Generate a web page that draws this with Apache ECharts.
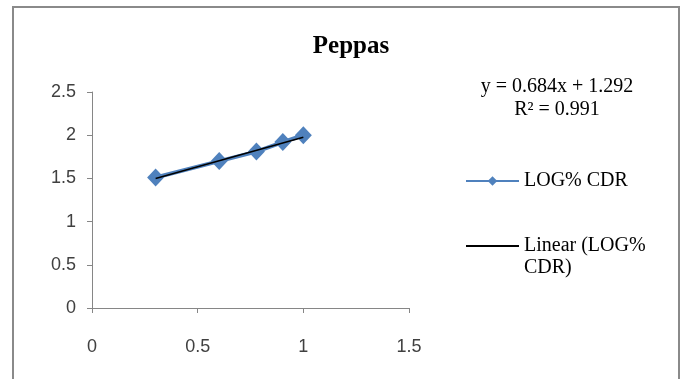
<!DOCTYPE html>
<html>
<head>
<meta charset="utf-8">
<script src="https://cdn.jsdelivr.net/npm/echarts@6/dist/echarts.min.js"></script>
<style>
  html, body { margin: 0; padding: 0; background: #fff; }
  #wrap { position: relative; width: 680px; height: 379px; overflow: hidden; }
  #frame { position: absolute; left: 12px; top: 6px; width: 664px; height: 380px;
           border: 2px solid #8a8a8a; border-bottom: none; }
  #main { position: absolute; left: 0; top: 0; width: 680px; height: 379px; }
</style>
</head>
<body>
<div id="wrap">
  <div id="frame"></div>
  <div id="main"></div>
</div>
<script>
// 数据（log 时间 vs log %CDR）
var logTime = [0.301, 0.602, 0.778, 0.903, 1.0];
var logCdr = [1.51, 1.70, 1.81, 1.92, 2.00];
// 趋势线两个端点
var trendX = [0.301, 1.0];
var trendY = [1.498, 1.976];
var xTicks = [0, 0.5, 1, 1.5];
var yTicks = [0, 0.5, 1, 1.5, 2, 2.5];

var chart = echarts.init(document.getElementById('main'));

var labelFont = { fontFamily: 'Liberation Sans', fontSize: 18, color: '#404040' };
var trendName = 'Linear (LOG%\nCDR)';

chart.setOption({
  animation: false,
  title: {
    text: 'Peppas',
    left: 346,
    top: 29,
    textAlign: 'center',
    textStyle: { fontFamily: 'Liberation Serif', fontWeight: 'bold', fontSize: 25, color: '#000' }
  },
  grid: { left: 92, top: 92, right: 271, bottom: 71, containLabel: false },
  xAxis: {
    type: 'value',
    min: xTicks[0],
    max: xTicks[xTicks.length - 1],
    interval: 0.5,
    axisLine: { show: true, lineStyle: { color: '#868686', width: 1 } },
    axisTick: { show: true, inside: false, length: 5, lineStyle: { color: '#868686' } },
    splitLine: { show: false },
    axisLabel: Object.assign({ margin: 30 }, labelFont)
  },
  yAxis: {
    type: 'value',
    min: yTicks[0],
    max: yTicks[yTicks.length - 1],
    interval: 0.5,
    axisLine: { show: true, lineStyle: { color: '#868686', width: 1 } },
    axisTick: { show: true, inside: false, length: 5, lineStyle: { color: '#868686' } },
    splitLine: { show: false },
    axisLabel: Object.assign({ margin: 16 }, labelFont)
  },
  legend: {
    orient: 'vertical',
    left: 465,
    top: 170,
    padding: 0,
    itemGap: 21,
    itemWidth: 53,
    itemHeight: 12,
    textStyle: { fontFamily: 'Liberation Serif', fontSize: 20, color: '#000', lineHeight: 22 },
    // 让图例线对齐第一行文字
    formatter: function (name) {
      return name === trendName ? ' \n' + name : name;
    },
    data: [
      { name: 'LOG% CDR' },
      { name: trendName, itemStyle: { opacity: 0 } }
    ]
  },
  graphic: [
    {
      type: 'text',
      x: 557,
      y: 75,
      style: {
        text: 'y = 0.684x + 1.292\nR² = 0.991',
        fill: '#000',
        font: '20px "Liberation Serif"',
        lineHeight: 23,
        align: 'center'
      }
    }
  ],
  series: [
    {
      name: 'LOG% CDR',
      type: 'line',
      data: logTime.map(function (x, i) { return [x, logCdr[i]]; }),
      symbol: 'diamond',
      symbolSize: [17, 18],
      showAllSymbol: true,
      itemStyle: { color: '#4F81BD' },
      lineStyle: { color: '#4F81BD', width: 4 },
      z: 2
    },
    {
      name: trendName,
      type: 'line',
      data: trendX.map(function (x, i) { return [x, trendY[i]]; }),
      symbol: 'none',
      itemStyle: { color: '#000' },
      lineStyle: { color: '#000', width: 1.5 },
      z: 3
    }
  ]
});
</script>
</body>
</html>
